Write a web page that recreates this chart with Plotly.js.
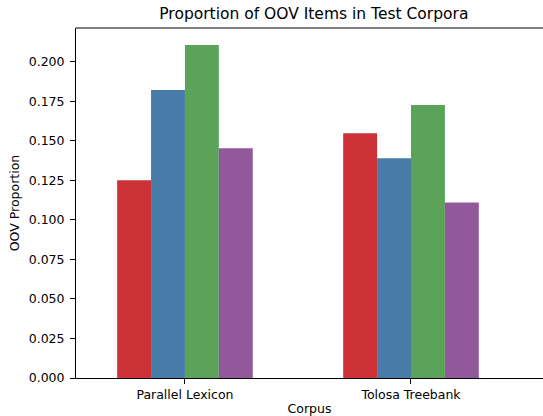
<!DOCTYPE html>
<html>
<head>
<meta charset="utf-8">
<script src="https://cdn.plot.ly/plotly-3.0.1.min.js"></script>
<style>html,body{margin:0;padding:0;overflow:hidden;background:#fff}</style>
</head>
<body>
<div id="chart" style="width:543px;height:416px"></div>
<script>
const categories = ["Parallel Lexicon", "Tolosa Treebank"];
const seriesNames = ["Series 1", "Series 2", "Series 3", "Series 4"];
const series1 = [0.1252, 0.1549];
const series2 = [0.1822, 0.1390];
const series3 = [0.2108, 0.1727];
const series4 = [0.1454, 0.1111];
const yTicks = [0, 0.025, 0.05, 0.075, 0.1, 0.125, 0.15, 0.175, 0.2];
const yTickLabels = ["0.000","0.025","0.050","0.075","0.100","0.125","0.150","0.175","0.200"];
const colors = ["#cd3236", "#477ca8", "#5aa359", "#91599b"];

const allSeries = [series1, series2, series3, series4];
const traces = allSeries.map((vals, i) => ({
  type: "bar",
  x: [0, 1],
  y: vals,
  name: seriesNames[i],
  marker: {color: colors[i], line: {width: 0}},
  showlegend: false,
  hoverinfo: "none"
}));

const fam = "DejaVu Sans, sans-serif";
const fs = 12.5;
const layout = {
  width: 543, height: 416,
  margin: {l: 76, r: 0, t: 28, b: 38, pad: 0},
  paper_bgcolor: "#fff", plot_bgcolor: "#fff",
  font: {family: fam, size: fs, color: "#000"},
  barmode: "group",
  bargap: 0.4,
  bargroupgap: 0,
  title: {text: "Proportion of OOV Items in Test Corpora", font: {family: fam, size: 15.5, color: "#000"},
          x: 0.578, xanchor: "center", y: 1, yref: "container", yanchor: "top", pad: {t: 8}},
  xaxis: {
    range: [-0.482, 1.584],
    tickvals: [0, 1], ticktext: categories,
    showgrid: false, zeroline: false,
    showline: true, linecolor: "#000", linewidth: 1,
    ticks: "outside", ticklen: 5, tickcolor: "#000",
    tickfont: {family: fam, size: fs, color: "#000"},
    title: {text: "Corpus", font: {family: fam, size: fs, color: "#000"}, standoff: 4},
    automargin: false
  },
  yaxis: {
    range: [0, 0.2215],
    tickvals: yTicks, ticktext: yTickLabels,
    showgrid: false, zeroline: false,
    showline: true, linecolor: "#000", linewidth: 1,
    ticks: "outside", ticklen: 5, tickcolor: "#000",
    ticklabelstandoff: 3,
    tickfont: {family: fam, size: fs, color: "#000"},
    title: {text: "OOV Proportion", font: {family: fam, size: fs, color: "#000"}, standoff: 6},
    automargin: false
  },
  shapes: [{type: "line", xref: "paper", yref: "paper", x0: 0, x1: 1, y0: 1, y1: 1,
            line: {color: "#000", width: 1}}]
};
Plotly.newPlot("chart", traces, layout, {displayModeBar: false, staticPlot: true});
</script>
</body>
</html>
